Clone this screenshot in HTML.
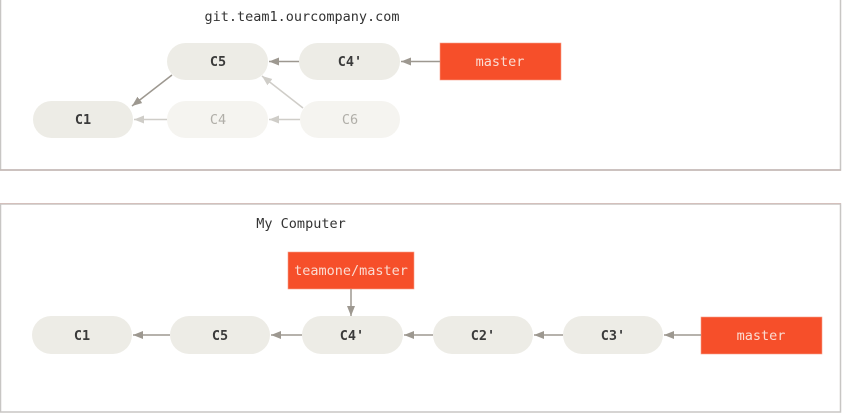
<!DOCTYPE html>
<html><head><meta charset="utf-8"><style>
html,body{margin:0;padding:0;background:#fff;}
svg{display:block;}
text{font-family:"DejaVu Sans Mono","Liberation Mono",monospace;font-size:13.5px;}
.n{fill:#edece6;}
.f{fill:#f5f4f0;}
.t{fill:#3a3a3a;font-weight:bold;text-anchor:middle;}
.tf{fill:#b0aea8;text-anchor:middle;}
.o{fill:#f64f2a;stroke:#f8a08a;stroke-width:0.6;}
.ot{fill:#fadcd2;text-anchor:middle;}
.l{stroke:#9d9890;stroke-width:1.5;fill:none;}
.lf{stroke:#cfcdc8;stroke-width:1.5;fill:none;}
</style></head><body>
<svg width="844" height="414" viewBox="0 0 844 414" xmlns="http://www.w3.org/2000/svg">
<defs>
<marker id="a" viewBox="0 0 10 10" refX="10" refY="5" markerWidth="10" markerHeight="10" markerUnits="userSpaceOnUse" orient="auto"><path d="M0,1 L10,5 L0,9 z" fill="#9d9890"/></marker>
<marker id="af" viewBox="0 0 10 10" refX="10" refY="5" markerWidth="10" markerHeight="10" markerUnits="userSpaceOnUse" orient="auto"><path d="M0,1 L10,5 L0,9 z" fill="#cfcdc8"/></marker>
</defs>
<!-- top box -->
<rect x="0.5" y="-2" width="840" height="172" fill="none" stroke="#c8c6c4" stroke-width="1.5"/>
<line x1="0" y1="170" x2="841" y2="170" stroke="#c4b8b4" stroke-width="1.5"/>
<text x="302" y="21" fill="#333" text-anchor="middle">git.team1.ourcompany.com</text>
<rect class="n" x="167" y="43" width="101" height="37" rx="18.5"/>
<text class="t" x="218" y="66">C5</text>
<rect class="n" x="299" y="43" width="101" height="37" rx="18.5"/>
<text class="t" x="350" y="66">C4'</text>
<rect class="n" x="33" y="101" width="100" height="37" rx="18.5"/>
<text class="t" x="83" y="124">C1</text>
<rect class="f" x="167" y="101" width="101" height="37" rx="18.5"/>
<text class="tf" x="218" y="124">C4</text>
<rect class="f" x="300" y="101" width="100" height="37" rx="18.5"/>
<text class="tf" x="350" y="124">C6</text>
<rect class="o" x="440" y="43" width="121" height="37"/>
<text class="ot" x="500" y="66">master</text>
<line class="l" x1="299" y1="61.5" x2="269" y2="61.5" marker-end="url(#a)"/>
<line class="l" x1="440" y1="61.5" x2="401" y2="61.5" marker-end="url(#a)"/>
<line class="l" x1="172" y1="75" x2="132" y2="106" marker-end="url(#a)"/>
<line class="lf" x1="303" y1="108" x2="262" y2="76" marker-end="url(#af)"/>
<line class="lf" x1="167" y1="119.5" x2="134" y2="119.5" marker-end="url(#af)"/>
<line class="lf" x1="300" y1="119.5" x2="269" y2="119.5" marker-end="url(#af)"/>
<!-- bottom box -->
<rect x="0.5" y="204" width="840" height="208" fill="none" stroke="#c8c6c4" stroke-width="1.5"/>
<line x1="0" y1="203.5" x2="841" y2="203.5" stroke="#d4c0bc" stroke-width="1"/>
<text x="301" y="228" fill="#333" text-anchor="middle">My Computer</text>
<rect class="o" x="288" y="252" width="126" height="37"/>
<text class="ot" x="351" y="275">teamone/master</text>
<line class="l" x1="351" y1="289" x2="351" y2="316" marker-end="url(#a)"/>
<rect class="n" x="32" y="316" width="100" height="38" rx="19"/>
<text class="t" x="82" y="340">C1</text>
<rect class="n" x="170" y="316" width="100" height="38" rx="19"/>
<text class="t" x="220" y="340">C5</text>
<rect class="n" x="302" y="316" width="101" height="38" rx="19"/>
<text class="t" x="352" y="340">C4'</text>
<rect class="n" x="433" y="316" width="100" height="38" rx="19"/>
<text class="t" x="483" y="340">C2'</text>
<rect class="n" x="563" y="316" width="100" height="38" rx="19"/>
<text class="t" x="613" y="340">C3'</text>
<rect class="o" x="701" y="317" width="121" height="37"/>
<text class="ot" x="761" y="340">master</text>
<line class="l" x1="170" y1="335" x2="133" y2="335" marker-end="url(#a)"/>
<line class="l" x1="302" y1="335" x2="271" y2="335" marker-end="url(#a)"/>
<line class="l" x1="433" y1="335" x2="404" y2="335" marker-end="url(#a)"/>
<line class="l" x1="563" y1="335" x2="534" y2="335" marker-end="url(#a)"/>
<line class="l" x1="701" y1="335" x2="664" y2="335" marker-end="url(#a)"/>
</svg>
</body></html>
